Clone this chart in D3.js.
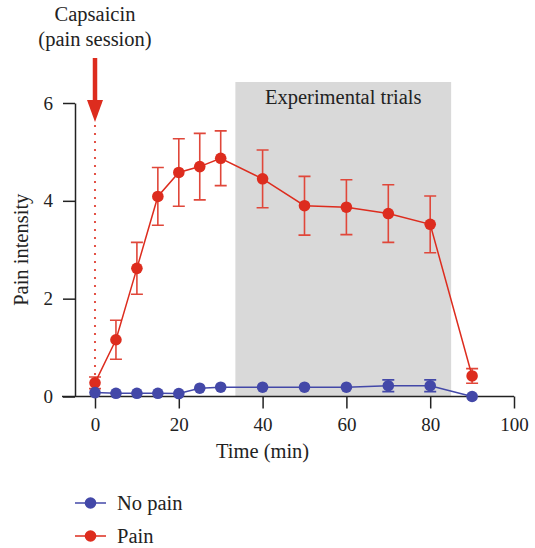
<!DOCTYPE html>
<meta charset="utf-8" />
<head>
  <style>
    body { margin: 0; background: #fff; }
    text { font-family: "Liberation Serif", "DejaVu Serif", serif; fill: #222; }
  </style>
  <script src="https://d3js.org/d3.v7.min.js"></script>
</head>
<body>
  <svg width="535" height="548"></svg>
  <script>
    // data
    const times = [0, 5, 10, 15, 20, 25, 30, 40, 50, 60, 70, 80, 90];
    const painMean = [0.28, 1.16, 2.62, 4.09, 4.58, 4.70, 4.87, 4.45, 3.90, 3.87, 3.74, 3.52, 0.42];
    const painErr = [0.12, 0.40, 0.53, 0.59, 0.69, 0.68, 0.56, 0.59, 0.60, 0.56, 0.59, 0.58, 0.15];
    const noPainMean = [0.08, 0.065, 0.065, 0.065, 0.06, 0.17, 0.19, 0.19, 0.19, 0.19, 0.22, 0.22, 0.0];
    const noPainErr = [0, 0, 0, 0, 0, 0, 0, 0, 0, 0, 0.12, 0.12, 0];
    const xTicks = [0, 20, 40, 60, 80, 100];
    const yTicks = [0, 2, 4, 6];
    const trialWindow = [33.5, 85];

    const red = "#dd2c1e", blue = "#4348a8";
    const wordSize = "20.5px", numSize = "19px";

    const svg = d3.select("svg");
    const x = d3.scaleLinear().domain([0, 100]).range([95, 514]);
    const y = d3.scaleLinear().domain([0, 6]).range([396.5, 103]);

    // shaded trials region
    svg.append("rect")
      .attr("x", x(trialWindow[0]))
      .attr("y", 82)
      .attr("width", x(trialWindow[1]) - x(trialWindow[0]))
      .attr("height", y(0) - 82)
      .attr("fill", "#d9d9d9");

    svg.append("text")
      .attr("x", (x(trialWindow[0]) + x(trialWindow[1])) / 2)
      .attr("y", 104)
      .attr("text-anchor", "middle")
      .style("font-size", wordSize)
      .text("Experimental trials");

    // axes
    const xAxis = svg.append("g")
      .attr("transform", "translate(0," + y(0) + ")")
      .call(d3.axisBottom(x).tickValues(xTicks).tickSize(12).tickPadding(9).tickSizeOuter(0));
    xAxis.select(".domain").remove();
    xAxis.append("line")
      .attr("x1", 62).attr("x2", x(100))
      .attr("stroke", "#222").attr("stroke-width", 1.5);
    xAxis.selectAll(".tick line").attr("stroke", "#222").attr("stroke-width", 1.5);
    xAxis.selectAll(".tick text").style("font-size", numSize).attr("fill", "#222");

    const yAxis = svg.append("g")
      .attr("transform", "translate(75,0)")
      .call(d3.axisLeft(y).tickValues(yTicks).tickFormat(d3.format("d"))
        .tickSize(12).tickPadding(10).tickSizeOuter(0));
    yAxis.select(".domain").attr("stroke", "#222").attr("stroke-width", 1.5);
    yAxis.selectAll(".tick line").attr("stroke", "#222").attr("stroke-width", 1.5);
    yAxis.selectAll(".tick text").style("font-size", numSize).attr("fill", "#222");

    svg.append("text")
      .attr("x", x(40))
      .attr("y", 458)
      .attr("text-anchor", "middle")
      .style("font-size", wordSize)
      .text("Time (min)");

    svg.append("text")
      .attr("transform", "translate(28," + y(3) + ") rotate(-90)")
      .attr("text-anchor", "middle")
      .style("font-size", wordSize)
      .text("Pain intensity");

    // capsaicin marker
    svg.append("text")
      .attr("x", x(0)).attr("y", 21)
      .attr("text-anchor", "middle")
      .style("font-size", wordSize)
      .text("Capsaicin");
    svg.append("text")
      .attr("x", x(0)).attr("y", 46)
      .attr("text-anchor", "middle")
      .style("font-size", wordSize)
      .text("(pain session)");
    svg.append("line")
      .attr("x1", x(0)).attr("x2", x(0))
      .attr("y1", 58).attr("y2", 102)
      .attr("stroke", red).attr("stroke-width", 4.5);
    svg.append("path")
      .attr("d", "M" + (x(0) - 8) + ",100 L" + (x(0) + 8) + ",100 L" + x(0) + ",122 Z")
      .attr("fill", red);
    svg.append("line")
      .attr("x1", x(0)).attr("x2", x(0))
      .attr("y1", 126).attr("y2", 388)
      .attr("stroke", red).attr("stroke-width", 2.2)
      .attr("stroke-linecap", "round")
      .attr("stroke-dasharray", "0,8");

    function drawSeries(means, errs, color, capColor) {
      const pts = times.map((t, i) => ({ t: t, m: means[i], e: errs[i] }));
      const g = svg.append("g");
      g.selectAll(".err")
        .data(pts.filter(d => d.e > 0))
        .enter()
        .append("path")
        .attr("d", d => {
          const cx = x(d.t), top = y(d.m + d.e), bot = y(d.m - d.e);
          return "M" + (cx - 6) + "," + top + "H" + (cx + 6) +
            "M" + cx + "," + top + "V" + bot +
            "M" + (cx - 6) + "," + bot + "H" + (cx + 6);
        })
        .attr("fill", "none")
        .attr("stroke", capColor)
        .attr("stroke-width", 1.6);
      g.append("path")
        .datum(pts)
        .attr("d", d3.line().x(d => x(d.t)).y(d => y(d.m)))
        .attr("fill", "none")
        .attr("stroke", color)
        .attr("stroke-width", 1.5);
      g.selectAll("circle")
        .data(pts)
        .enter()
        .append("circle")
        .attr("cx", d => x(d.t))
        .attr("cy", d => y(d.m))
        .attr("r", 5.8)
        .attr("fill", color);
    }

    drawSeries(painMean, painErr, red, "#e0473a");
    drawSeries(noPainMean, noPainErr, blue, blue);

    // legend
    const legend = [
      { name: "No pain", color: blue },
      { name: "Pain", color: red }
    ];
    const lg = svg.selectAll(".legend")
      .data(legend)
      .enter()
      .append("g")
      .attr("transform", (d, i) => "translate(0," + (503 + i * 33) + ")");
    lg.append("line")
      .attr("x1", 75).attr("x2", 106)
      .attr("stroke", d => d.color).attr("stroke-width", 1.5);
    lg.append("circle")
      .attr("cx", 90.5).attr("r", 5.8)
      .attr("fill", d => d.color);
    lg.append("text")
      .attr("x", 117).attr("y", 7)
      .style("font-size", wordSize)
      .text(d => d.name);
  </script>
</body>
